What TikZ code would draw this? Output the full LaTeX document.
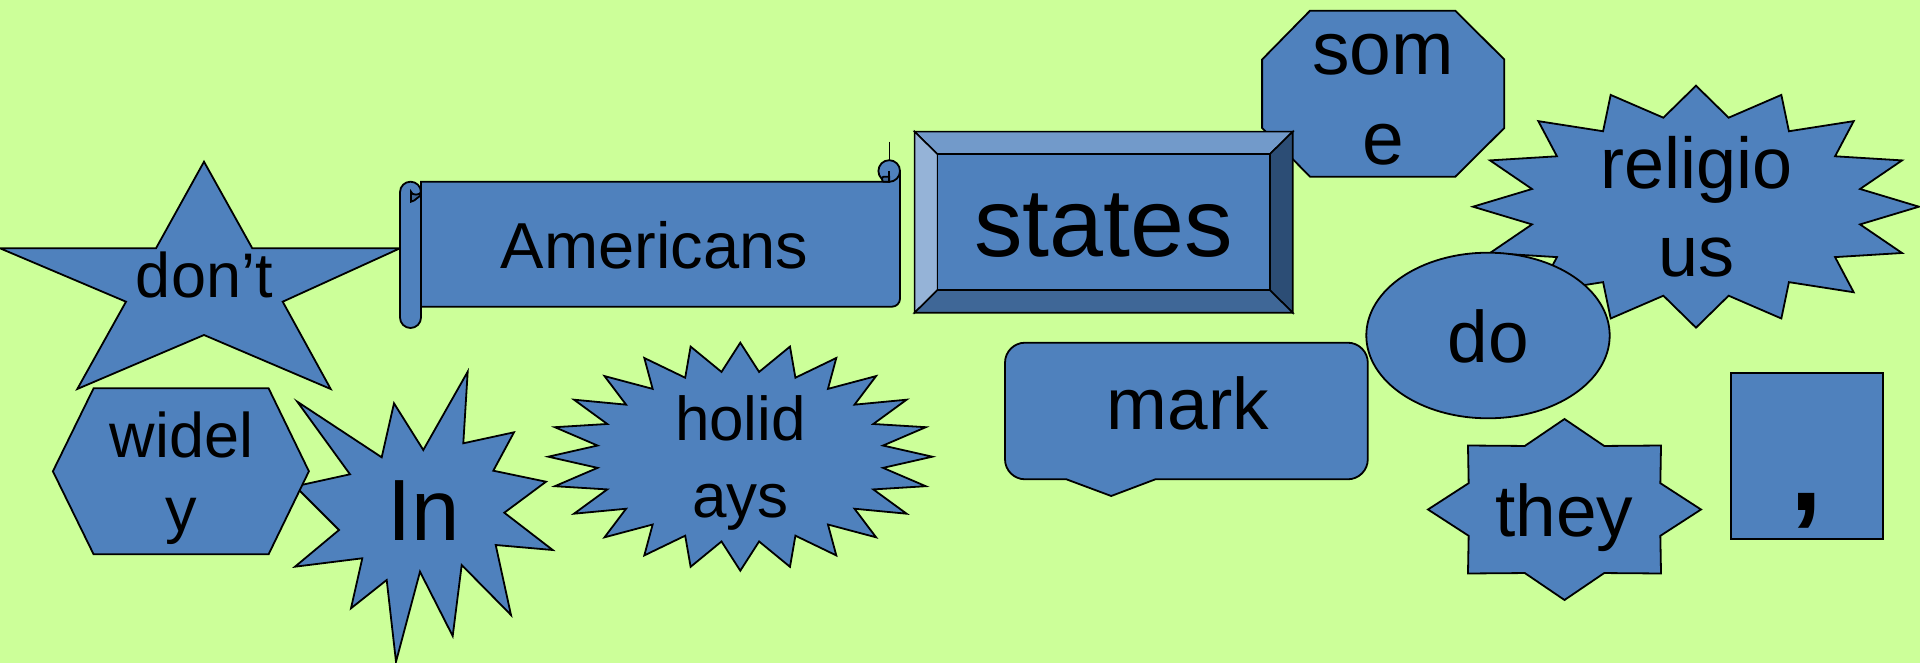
\documentclass[tikz,border=0pt]{standalone}
\usepackage{fontspec}
\setmainfont{Liberation Sans}
\definecolor{bg}{HTML}{CCFF99}
\definecolor{shapeblue}{HTML}{4F81BD}
\definecolor{bevtop}{HTML}{729ACA}
\definecolor{bevleft}{HTML}{95B3D7}
\definecolor{bevright}{HTML}{2C4D75}
\definecolor{bevbottom}{HTML}{3F6797}
\definecolor{curl}{HTML}{3F6797}
\newcommand\wfont[1]{\fontsize{#1}{#1}\selectfont}
% cx cy a b ratio N : star polygon with top point
\newcommand\wordstar[6]{%
  \draw[blueshape] ({#1},{#2-#4})
    \foreach \k in {1,...,#6}{
      -- ({#1+#5*#3*sin((\k-0.5)*360/#6)},{#2-#5*#4*cos((\k-0.5)*360/#6)})
      -- ({#1+#3*sin(\k*360/#6)},{#2-#4*cos(\k*360/#6)})
    } -- cycle;}
\begin{document}
\begin{tikzpicture}[x=1pt,y=-1pt]
\tikzset{
  blueshape/.style={fill=shapeblue, draw=black, line width=1.8pt, line join=miter},
  bevface/.style={draw=black, line width=1.6pt, line join=miter},
  word/.style={inner sep=0pt, anchor=base, text=black},
}
\fill[bg] (0,0) rectangle (1920,663);
\useasboundingbox (0,0) rectangle (1920,663);

% ---- star "don't"
\draw[blueshape] (204,161.7) -- (252.3,248.3) -- (400,248.3) -- (282.7,301.7) -- (330.7,389)
  -- (204,335) -- (77.3,389) -- (126,301.7) -- (0,248.3) -- (156,248.3) -- cycle;
\node[word, font=\wfont{63}] (dont) at (204.3,298) {don’t};

% ---- scroll "Americans"
\draw[blueshape] (421,306.7) -- (421,181.7) -- (889.2,181.7) -- (889.2,171) -- (900,171)
  -- (900,298.7) .. controls (900,303.1) and (896.4,306.7) .. (892,306.7) -- cycle;
\draw[blueshape] (889.2,171) circle[radius=10.8pt];
\draw[blueshape, fill=curl] (889.2,176.7) -- (883.5,176.7) to[out=180,in=180] (883.5,181.7) -- (889.2,181.7) -- cycle;
\draw[line width=1.8pt] (889.2,171) -- (889.2,181.7);
\draw[line width=0.8pt] (889.2,141.7) -- (889.2,160.2);
\draw[blueshape, rounded corners=10.5pt] (400,181.7) rectangle (421,328);
\draw[blueshape, fill=curl] (411,201.7) -- (411,191.7) to[out=270,in=270] (421,191.7)
  -- (421,197) to[out=90,in=0] (411,201.7) -- cycle;
\node[word, font=\wfont{65}] (americans) at (654.5,268.3) {Americans};

% ---- octagon "some"
\draw[blueshape] (1310,10.7) -- (1455.3,10.7) -- (1504.3,59.5) -- (1504.3,128) -- (1455.3,176.7)
  -- (1310,176.7) -- (1262.1,128) -- (1262.1,59.5) -- cycle;
\node[word, font=\wfont{75}] (some1) at (1383,75) {som};
\node[word, font=\wfont{75}] (some2) at (1383,165) {e};

% ---- bevel "states"
\coordinate (oTL) at (914.6,131.7);
\coordinate (oTR) at (1292.7,131.7);
\coordinate (oBR) at (1292.7,312.7);
\coordinate (oBL) at (914.6,312.7);
\coordinate (iTL) at (937.6,154.3);
\coordinate (iTR) at (1269.7,154.3);
\coordinate (iBR) at (1269.7,290);
\coordinate (iBL) at (937.6,290);
\draw[bevface, fill=bevtop] (oTL) -- (oTR) -- (iTR) -- (iTL) -- cycle;
\draw[bevface, fill=bevleft] (oTL) -- (iTL) -- (iBL) -- (oBL) -- cycle;
\draw[bevface, fill=bevright] (oTR) -- (oBR) -- (iBR) -- (iTR) -- cycle;
\draw[bevface, fill=bevbottom] (oBL) -- (iBL) -- (iBR) -- (oBR) -- cycle;
\draw[bevface, fill=shapeblue] (iTL) rectangle (iBR);
\node[word, font=\wfont{97}] (states) at (1103.7,256.7) {states};

% ---- 16-point star "religious"
\wordstar{1696}{206.7}{223}{121}{0.75}{16}
\node[word, font=\wfont{72}] (relig1) at (1696.5,188.3) {religio};
\node[word, font=\wfont{72}] (relig2) at (1696.5,276.7) {us};

% ---- ellipse "do"
\draw[blueshape] (1488,335.5) ellipse[x radius=121.7pt, y radius=82.8pt];
\node[word, font=\wfont{73}] (do) at (1488.5,362.7) {do};

% ---- explosion "In"
\draw[blueshape] (297.3,401.7) -- (381.7,457.3) -- (394,403.3) -- (423.3,450) -- (467.7,371.7)
  -- (463.3,443.3) -- (514,432.3) -- (493.3,470.7) -- (546,481.7) -- (504.3,512.7)
  -- (552.7,550) -- (495.7,545) -- (511,615) -- (461.7,565) -- (452.7,636)
  -- (420,571.7) -- (396,661.7) -- (386.7,580) -- (351,608.3) -- (362.3,558.3)
  -- (295,566.7) -- (339,530) -- (295.3,486.3) -- (350,474.3) -- cycle;
\node[word, font=\wfont{87}] (in) at (423.3,540) {In};

% ---- hexagon "widely"
\draw[blueshape] (93.6,388.3) -- (268.6,388.3) -- (308.9,471.3) -- (268.6,554.3) -- (93.6,554.3)
  -- (52.9,471.3) -- cycle;
\node[word, font=\wfont{63}] (widely1) at (181.5,457.3) {widel};
\node[word, font=\wfont{63}] (widely2) at (181.5,531) {y};

% ---- 24-point star "holidays"
\wordstar{740.3}{456.7}{192}{114}{0.75}{24}
\node[word, font=\wfont{62}] (holid1) at (740.5,440.7) {holid};
\node[word, font=\wfont{62}] (holid2) at (740.5,517) {ays};

% ---- callout "mark"
\draw[blueshape] (1025,342.7) -- (1347.8,342.7) .. controls (1358.8,342.7) and (1367.8,351.7) .. (1367.8,362.7)
  -- (1367.8,459.3) .. controls (1367.8,470.3) and (1358.8,479.3) .. (1347.8,479.3)
  -- (1155.4,479.3) -- (1111.2,496) -- (1066.4,479.3) -- (1025,479.3)
  .. controls (1014,479.3) and (1005,470.3) .. (1005,459.3) -- (1005,362.7)
  .. controls (1005,351.7) and (1014,342.7) .. (1025,342.7) -- cycle;
\node[word, font=\wfont{73}] (mark) at (1188,429.3) {mark};

% ---- 8-point star "they"
\wordstar{1564.5}{509.5}{136.5}{90.5}{0.76}{8}
\node[word, font=\wfont{73}] (they) at (1564.3,536) {they};

% ---- rectangle ","
\draw[blueshape] (1730.7,372.7) rectangle (1882.7,539.3);
\node[word, font={\bfseries\wfont{115}}] (comma) at (1806.7,510.5) {,};
\end{tikzpicture}
\end{document}
